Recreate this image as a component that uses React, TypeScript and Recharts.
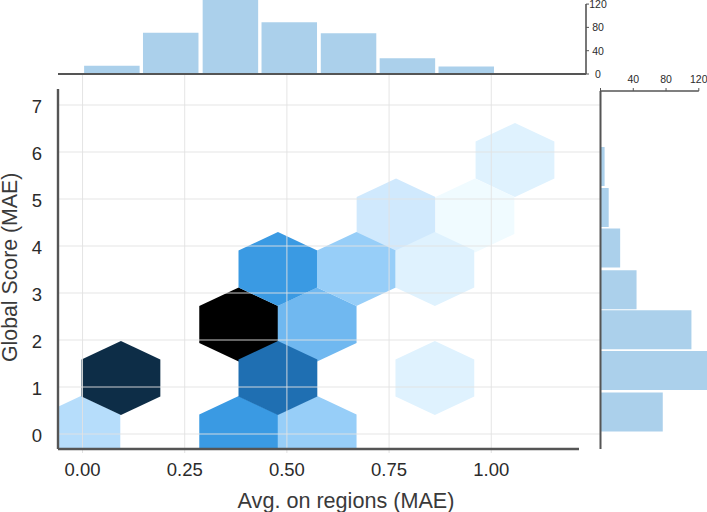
import React from "react";
import {
  Bar,
  BarChart,
  ReferenceLine,
  Scatter,
  ScatterChart,
  XAxis,
  YAxis,
} from "recharts";

// hexbin cells, even rows first because odd rows overlap them in the picture
const hexX = [-0.004, 0.382, 0.574, 0.382, 0.574, 0.767, 0.96, 0.094, 0.478, 0.862, 0.478, 0.67, 0.862, 1.058];
const hexY = [0.02, 0.02, 0.02, 2.33, 2.33, 4.65, 4.65, 1.19, 1.19, 1.19, 3.51, 3.51, 3.51, 5.83];
const hexCount = [5, 14, 7, 40, 10, 3, 1, 36, 22, 2, 14, 7, 2, 2];

const countColors: Record<number, string> = {
  1: "#f0fbff",
  2: "#dff2fe",
  3: "#d0e9fd",
  5: "#b6ddfb",
  7: "#97cef8",
  10: "#70b8f0",
  14: "#3a9ae3",
  22: "#1f6fb2",
  36: "#0d2d47",
  40: "#000000",
};

const topBins = [0.071, 0.215, 0.361, 0.505, 0.65, 0.794, 0.938];
const topCounts = [14, 71, 127, 89, 70, 27, 13];
const rightBins = [5.68, 4.81, 3.95, 3.06, 2.21, 1.34, 0.46];
const rightCounts = [5, 10, 24, 44, 111, 130, 76];

const xTicks = [0, 0.25, 0.5, 0.75, 1];
const yTicks = [0, 1, 2, 3, 4, 5, 6, 7];
const countTicks = [0, 40, 80, 120];

const hexData = hexX.map((x, i) => ({ x, y: hexY[i], count: hexCount[i] }));
const topData = topBins.map((bin, i) => ({ bin, count: topCounts[i] }));
const rightData = rightBins.map((bin, i) => ({ bin, count: rightCounts[i] }));

const FONT = '"Liberation Sans", Arial, sans-serif';
const SPINE = "#555555";
const HIST = "#abd0eb";
const GRID = "#e2e2e2";
const TEXT = "#2b2b2b";

const HEX_W = 39.4;
const HEX_R = 37;
const ABOVE_MARKS = 700;

function Hexagon({ cx, cy, payload }: any) {
  const pts = [
    [0, -HEX_R],
    [HEX_W, -HEX_R / 2],
    [HEX_W, HEX_R / 2],
    [0, HEX_R],
    [-HEX_W, HEX_R / 2],
    [-HEX_W, -HEX_R / 2],
  ]
    .map(([dx, dy]) => `${cx + dx},${cy + dy}`)
    .join(" ");
  return <polygon points={pts} fill={countColors[payload.count]} />;
}

function SmallTick({ x, y, payload, side }: any) {
  const isRight = side === "right";
  // the top axis of the side histogram has no label at zero
  if (!isRight && payload.value === 0) return <g />;
  return (
    <text
      x={isRight ? x + 7 : x}
      y={isRight ? y + 4 : y - 3}
      textAnchor="middle"
      fontSize={10.5}
      fontFamily={FONT}
      fill={TEXT}
    >
      {payload.value}
    </text>
  );
}

function MainHexbin() {
  return (
    <ScatterChart
      width={707}
      height={512}
      margin={{ top: 73, right: 107, bottom: 0, left: 0 }}
      style={{ position: "absolute", left: 0, top: 0 }}
    >
      <XAxis
        type="number"
        dataKey="x"
        domain={[-0.06, 1.266]}
        ticks={xTicks}
        interval={0}
        allowDataOverflow
        height={63}
        axisLine={false}
        tickLine={{ stroke: GRID }}
        tickSize={4}
        tickMargin={10}
        tickFormatter={(v: number) => v.toFixed(2)}
        tick={{ fontSize: 18.5, fontFamily: FONT, fill: TEXT }}
        label={{
          value: "Avg. on regions (MAE)",
          position: "insideBottom",
          offset: 4,
          dx: 17,
          fontSize: 21.6,
          fontFamily: FONT,
          fill: "#3a3a3a",
        }}
      />
      <YAxis
        type="number"
        dataKey="y"
        domain={[-0.319, 7.681]}
        ticks={yTicks}
        interval={0}
        allowDataOverflow
        width={58}
        axisLine={false}
        tickLine={false}
        tickMargin={10}
        tick={{ fontSize: 18.5, fontFamily: FONT, fill: TEXT, dy: 1 }}
        label={{
          value: "Global Score (MAE)",
          angle: -90,
          position: "insideLeft",
          offset: 9,
          dy: 101,
          fontSize: 21.3,
          fontFamily: FONT,
          fill: "#3a3a3a",
        }}
      />
      <Scatter data={hexData} isAnimationActive={false} shape={<Hexagon />} />
      {yTicks.map((v) => (
        <ReferenceLine key={`h${v}`} y={v} stroke={GRID} strokeWidth={0.9} zIndex={ABOVE_MARKS} />
      ))}
      {xTicks.map((v) => (
        <ReferenceLine key={`v${v}`} x={v} stroke={GRID} strokeWidth={0.9} zIndex={ABOVE_MARKS} />
      ))}
      <ReferenceLine
        segment={[
          { x: -0.06, y: -0.319 },
          { x: -0.06, y: 7.34 },
        ]}
        stroke={SPINE}
        strokeWidth={2.4}
        zIndex={ABOVE_MARKS}
      />
      <ReferenceLine
        segment={[
          { x: -0.06, y: -0.319 },
          { x: 1.2146, y: -0.319 },
        ]}
        stroke={SPINE}
        strokeWidth={2.4}
        zIndex={ABOVE_MARKS}
      />
    </ScatterChart>
  );
}

function TopHistogram() {
  return (
    <BarChart
      width={707}
      height={84}
      data={topData}
      margin={{ top: 0, right: 91, bottom: 10, left: 58 }}
      style={{ position: "absolute", left: 0, top: 0 }}
    >
      <XAxis type="number" dataKey="bin" domain={[-0.06, 1.2317]} allowDataOverflow hide />
      <YAxis
        type="number"
        orientation="right"
        domain={[0, 127]}
        ticks={countTicks}
        interval={0}
        allowDataOverflow
        width={30}
        axisLine={false}
        tickLine={{ stroke: SPINE }}
        tickSize={3}
        tick={<SmallTick side="right" />}
      />
      <Bar dataKey="count" fill={HIST} barSize={55.5} isAnimationActive={false} />
      <ReferenceLine
        segment={[
          { x: -0.06, y: 0 },
          { x: 1.2317, y: 0 },
        ]}
        stroke={SPINE}
        strokeWidth={1.8}
      />
      <ReferenceLine
        segment={[
          { x: 1.2317, y: 0 },
          { x: 1.2317, y: 120 },
        ]}
        stroke={SPINE}
        strokeWidth={1.6}
      />
    </BarChart>
  );
}

function RightHistogram() {
  return (
    <BarChart
      layout="vertical"
      width={117}
      height={459}
      data={rightData}
      margin={{ top: 60, right: 0, bottom: 10, left: 10.5 }}
      style={{ position: "absolute", left: 590, top: 0 }}
    >
      <XAxis
        type="number"
        orientation="top"
        domain={[0, 130]}
        ticks={countTicks}
        interval={0}
        allowDataOverflow
        height={31}
        axisLine={false}
        tickLine={{ stroke: SPINE }}
        tickSize={3}
        tick={<SmallTick side="top" />}
      />
      <YAxis
        type="number"
        dataKey="bin"
        domain={[-0.319, 7.298]}
        reversed
        ticks={yTicks}
        interval={0}
        allowDataOverflow
        width={0}
        mirror
        axisLine={false}
        tick={false}
        tickLine={{ stroke: "#999999" }}
        tickSize={3}
      />
      <Bar dataKey="count" fill={HIST} barSize={39} isAnimationActive={false} />
      <ReferenceLine
        segment={[
          { x: 0, y: -0.319 },
          { x: 0, y: 7.298 },
        ]}
        stroke={SPINE}
        strokeWidth={2}
      />
      <ReferenceLine
        segment={[
          { x: 0, y: 7.298 },
          { x: 120, y: 7.298 },
        ]}
        stroke={SPINE}
        strokeWidth={1.6}
      />
    </BarChart>
  );
}

export default function App() {
  return (
    <div style={{ position: "absolute", left: 0, top: 0, width: 707, height: 512, overflow: "hidden", background: "#fff" }}>
      <MainHexbin />
      <TopHistogram />
      <RightHistogram />
    </div>
  );
}
